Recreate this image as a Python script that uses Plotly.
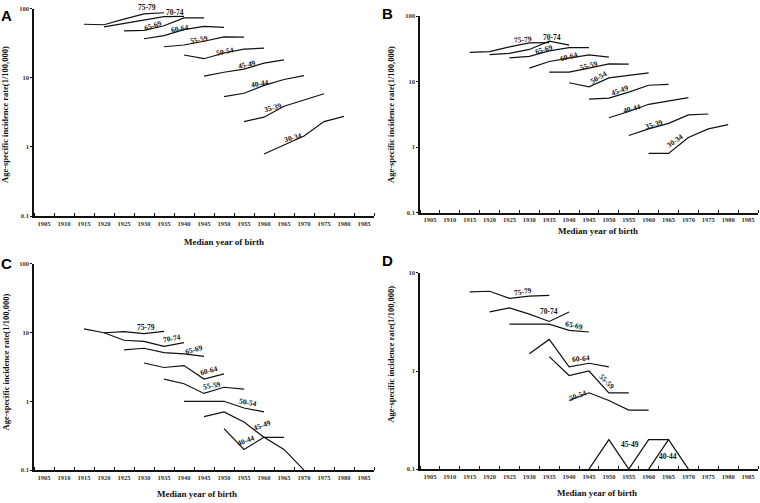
import math
import plotly.graph_objects as go

# ---------------- data ----------------
ages = ["75-79", "70-74", "65-69", "60-64", "55-59", "50-54", "45-49", "40-44", "35-39", "30-34"]
start_years = [1915, 1920, 1925, 1930, 1935, 1940, 1945, 1950, 1955, 1960]
year_steps = [0, 5, 10, 15, 20]

tick_years = [1905, 1910, 1915, 1920, 1925, 1930, 1935, 1940, 1945,
              1950, 1955, 1960, 1965, 1970, 1975, 1980, 1985]
tick_labels = [str(y) for y in tick_years]

panel_a = [
    [60, 59, 71, 85, 88],
    [55, 61.5, 69, 77.5, 78],
    [48, 49, 57, 74, 74],
    [37, 41, 50, 56, 54],
    [28.3, 30, 34, 39.4, 39],
    [21.5, 19, 23, 26.2, 27],
    [10.6, 12.1, 13.4, 16.4, 18.3],
    [5.35, 6.0, 7.8, 9.5, 10.8],
    [2.33, 2.7, 3.9, 4.8, 5.9],
    [0.79, 1.06, 1.44, 2.33, 2.77],
]
panel_b = [
    [28, 28.7, 34, 39, 39.5],
    [25.8, 27, 31, 41.5, 36],
    [23, 24.3, 29.5, 33, 33],
    [16.1, 20.3, 22.8, 25.6, 23.6],
    [14, 14, 16.1, 18.7, 18.5],
    [9.6, 8.3, 11.4, 12.4, 13.6],
    [5.4, 5.6, 6.9, 8.8, 9.1],
    [2.8, 3.5, 4.5, 5.0, 5.7],
    [1.5, 1.9, 2.3, 3.1, 3.2],
    [0.8, 0.8, 1.4, 1.9, 2.2],
]
panel_c = [
    [11.3, 9.9, 10.3, 9.6, 10.4],
    [9.9, 7.7, 7.4, 6.3, 7.1],
    [5.6, 5.9, 5.1, 4.9, 4.5],
    [3.6, 3.1, 3.3, 2.1, 2.5],
    [2.1, 1.8, 1.3, 1.6, 1.5],
    [1.0, 1.0, 1.0, 0.8, 0.7],
    [0.6, 0.7, 0.5, 0.3, 0.3],
    [0.4, 0.2, 0.3, 0.2, 0.1],
]
panel_d = [
    [6.4, 6.5, 5.5, 5.8, 5.9],
    [4.0, 4.4, 3.8, 3.2, 4.0],
    [3.0, 3.0, 3.0, 2.6, 2.5],
    [1.5, 2.1, 1.1, 1.2, 1.1],
    [1.4, 0.9, 1.0, 0.6, 0.6],
    [0.5, 0.6, 0.5, 0.4, 0.4],
    [0.1, 0.2, 0.1, 0.2, 0.2],
    [None, None, 0.1, 0.2, 0.1],
]

# label placement: (year, value, angle, vertical pixel shift)
labels_a = [(1930.7, 99, 0, 2), (1937.8, 89, 0, 0), (1932.3, 57, -18, 0), (1939, 51.5, -10, 0),
            (1943.8, 36.5, -10, 0), (1950.3, 24.5, -12, 0), (1955.7, 15.5, -12, 0),
            (1959, 8.2, -10, 0), (1962.3, 3.72, -15, 0), (1967.3, 1.39, -15, 0)]
labels_b = [(1928.5, 44.5, -5, 0), (1935.7, 46.7, 0, 0), (1933.6, 30.8, -15, 0), (1940, 24.2, -15, 0),
            (1945, 17.4, -15, 0), (1947.4, 11.4, -30, 0), (1952.7, 7.2, -20, 0),
            (1955.8, 3.9, -15, 0), (1961.3, 2.25, -15, 0), (1966.7, 1.26, -35, 0)]
labels_c = [(1930.5, 11.8, 0, 0), (1936.9, 8.15, -10, 0), (1942.6, 5.6, -15, 0), (1946.3, 2.8, -15, 0),
            (1947, 1.7, -10, 0), (1956.1, 0.96, 10, 0), (1959.4, 0.45, -20, 0), (1955.5, 0.27, -20, 0)]
labels_d = [(1928.5, 6.44, -10, 0), (1935, 4.0, 0, 0), (1941.3, 2.9, 12, 0), (1943, 1.33, -5, 0),
            (1949.5, 0.785, 45, 0), (1942.2, 0.56, -20, 0), (1955.4, 0.178, 0, 0), (1964.8, 0.133, 0, 0)]

# ---------------- figure ----------------
W, H = 760, 503
SERIF = "Liberation Serif"

def px_x(p):
    return p / W

def px_y(p):
    return 1 - p / H

panels = [
    ("A", panel_a, labels_a, (34, 374), (5, 215), [-1, 2], [0.1, 1, 10, 100]),
    ("B", panel_b, labels_b, (420, 758), (12.3, 211.5), [-1, 2], [0.1, 1, 10, 100]),
    ("C", panel_c, labels_c, (34, 374), (263.3, 472.7), [-1, 2], [0.1, 1, 10, 100]),
    ("D", panel_d, labels_d, (420, 758), (272.7, 471.7), [-1, 1], [0.1, 1, 10]),
]

fig = go.Figure()
annotations = []
layout_axes = {}
boundaries = [1902.5 + 5 * k for k in range(18)]

for idx, (name, data, labs, xd, yd, yr, yt) in enumerate(panels):
    n = idx + 1
    xa = "x" if n == 1 else f"x{n}"
    ya = "y" if n == 1 else f"y{n}"
    for i, vals in enumerate(data):
        xs, ys = [], []
        for step, v in zip(year_steps, vals):
            if v is not None:
                xs.append(start_years[i] + step)
                ys.append(v)
        fig.add_trace(go.Scatter(x=xs, y=ys, mode="lines", xaxis=xa, yaxis=ya,
                                 line=dict(color="#111111", width=1.2),
                                 showlegend=False, hoverinfo="skip", cliponaxis=False))
    for i, (lx, lv, ang, sh) in enumerate(labs):
        annotations.append(dict(x=lx, y=math.log10(lv), xref=xa, yref=ya, text=ages[i],
                                showarrow=False, textangle=ang, xanchor="center", yanchor="middle",
                                yshift=sh,
                                font=dict(family=SERIF, size=7.5, color="#111111", weight="bold")))
    layout_axes["xaxis" if n == 1 else f"xaxis{n}"] = dict(
        domain=[px_x(xd[0]), px_x(xd[1])], anchor=ya, range=[1902.5, 1987.5],
        showline=True, linecolor="#111111", linewidth=1.5, showgrid=False, zeroline=False,
        tickmode="array", tickvals=tick_years, ticktext=tick_labels, ticks="", ticklen=0,
        tickfont=dict(family=SERIF, size=6.5, color="#333333", weight="bold"),
        minor=dict(tickmode="array", tickvals=boundaries, ticks="inside", ticklen=3,
                   tickwidth=1, tickcolor="#111111", showgrid=False),
    )
    layout_axes["yaxis" if n == 1 else f"yaxis{n}"] = dict(
        domain=[px_y(yd[1]), px_y(yd[0])], anchor=xa, type="log", range=yr,
        showline=True, linecolor="#111111", linewidth=1.5, showgrid=False, zeroline=False,
        tickmode="array", tickvals=yt, ticktext=[("%g" % t) for t in yt],
        ticks="outside", ticklen=2, tickcolor="#111111",
        tickfont=dict(family=SERIF, size=6.5, color="#333333", weight="bold"),
    )
    lx = 6 if name in ("A", "C") else 387
    ly = {"A": 12, "B": 10, "C": 263, "D": 260}[name]
    annotations.append(dict(x=px_x(lx), y=px_y(ly), xref="paper", yref="paper", text=name,
                            showarrow=False, xanchor="center", yanchor="middle",
                            font=dict(family="Liberation Sans", size=15,
                                      color="#000000", weight="bold")))
    tx = {"A": 224, "B": 598, "C": 197, "D": 597}[name]
    ty = {"A": 241, "B": 230, "C": 496.5, "D": 496}[name]
    annotations.append(dict(x=px_x(tx), y=px_y(ty), xref="paper", yref="paper",
                            text="Median year of birth", showarrow=False,
                            xanchor="center", yanchor="middle",
                            font=dict(family=SERIF, size=9, color="#111111", weight="bold")))
    yx = {"A": 5.5, "B": 391.5, "C": 5.5, "D": 391.5}[name]
    yy = {"A": 112, "B": 112, "C": 363, "D": 355}[name]
    annotations.append(dict(x=px_x(yx), y=px_y(yy), xref="paper", yref="paper",
                            text="Age-specific incidence rate(1/100,000)", showarrow=False,
                            textangle=-90, xanchor="center", yanchor="middle",
                            font=dict(family=SERIF, size=8.5, color="#111111", weight="bold")))

fig.update_layout(
    width=W, height=H, margin=dict(l=0, r=0, t=0, b=0),
    paper_bgcolor="white", plot_bgcolor="white",
    annotations=annotations, **layout_axes,
)

fig.write_html("out.html", config={"displayModeBar": False},
               post_script="document.body.style.margin='0px';document.body.style.padding='0px';")
